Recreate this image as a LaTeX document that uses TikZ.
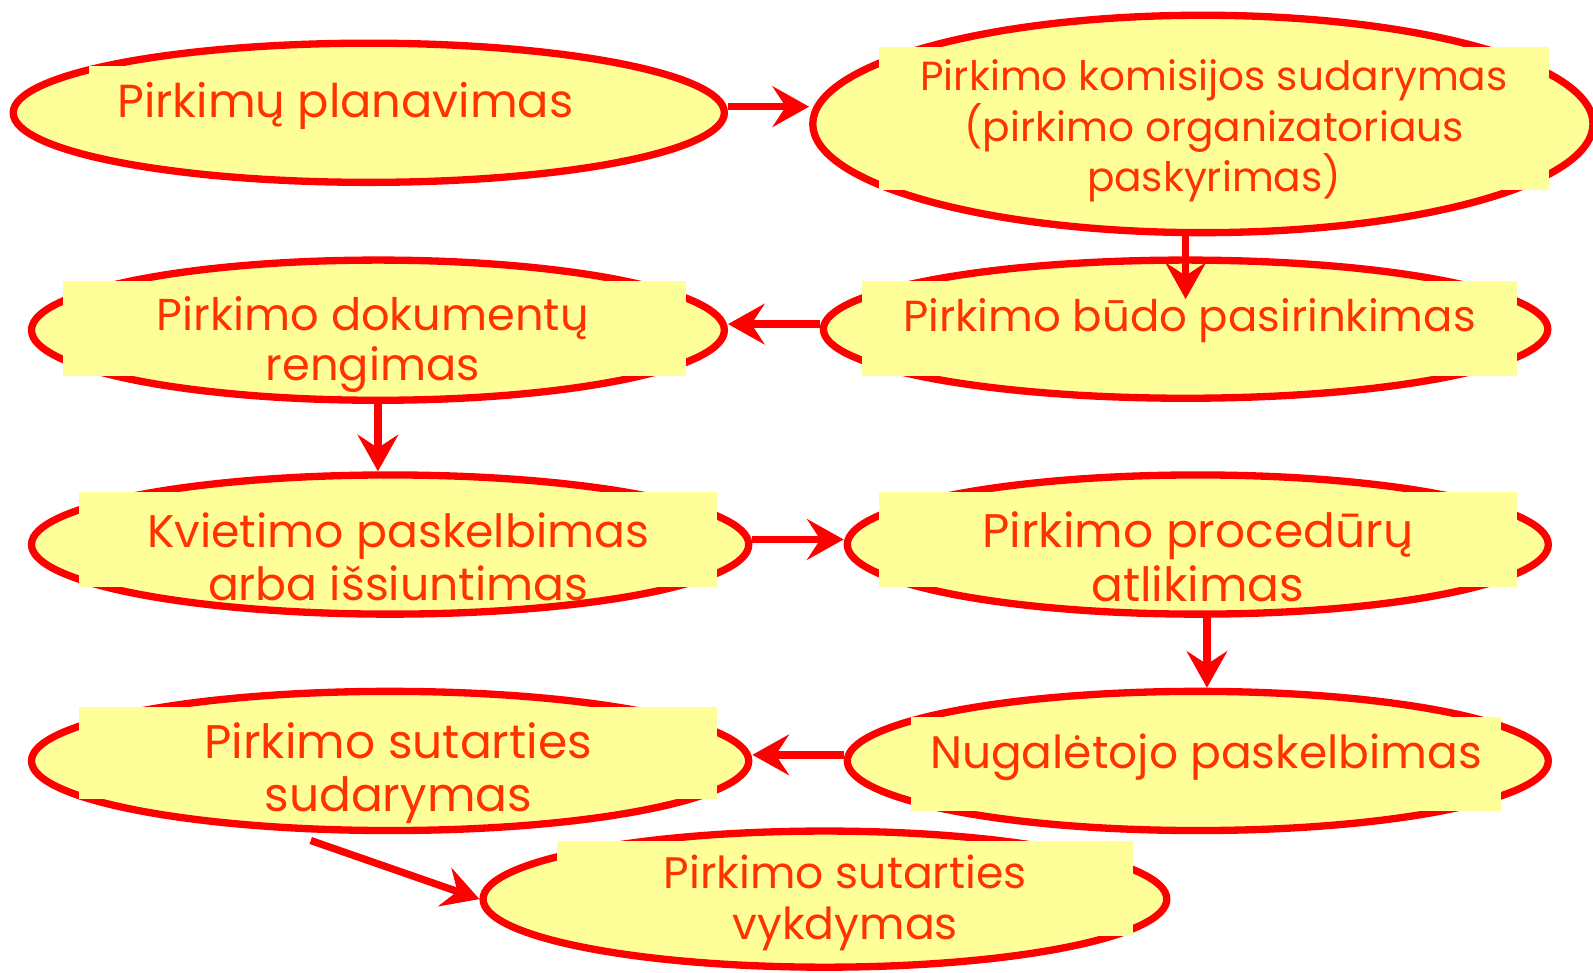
\documentclass[tikz,border=0pt]{standalone}
\usepackage{fontspec}
\setmainfont{Poppins}
\usetikzlibrary{shapes.geometric,arrows.meta}
\definecolor{pale}{RGB}{255,255,153}
\definecolor{ink}{RGB}{255,51,0}
\tikzset{
  stage/.style={ellipse,draw=red,line width=3.6pt,fill=pale,inner sep=0pt},
  cover/.style={fill=pale,inner sep=0pt},
  lbl/.style={text=ink,align=center,inner sep=0pt},
  arr/.style={draw=red,line width=3.6pt,-{Stealth[length=18pt,width=20pt,inset=6.5pt]}}
}
\begin{document}
\begin{tikzpicture}[x=0.5pt,y=-0.5pt]
\useasboundingbox (0,0) rectangle (1568,957);
% the ellipses
\node[stage,minimum width=350pt,minimum height=68.5pt] (e1) at (363,111) {};
\node[stage,minimum width=384pt,minimum height=107pt] (e2) at (1184,122) {};
\node[stage,minimum width=356.5pt,minimum height=68pt] (e3) at (1167,324) {};
\node[stage,minimum width=341pt,minimum height=69pt] (e4) at (372,325) {};
\node[stage,minimum width=353pt,minimum height=68.5pt] (e5) at (384,536) {};
\node[stage,minimum width=345pt,minimum height=68.5pt] (e6) at (1179,536) {};
\node[stage,minimum width=345pt,minimum height=68.5pt] (e7) at (1179,749) {};
\node[stage,minimum width=353pt,minimum height=68.5pt] (e8) at (384,749) {};
\node[stage,minimum width=336.5pt,minimum height=67pt] (e9) at (812,885) {};
% the text boxes over them
\node[cover,minimum width=252pt,minimum height=36pt] (b1) at (340,101) {};
\node[cover,minimum width=330pt,minimum height=70.5pt] (b2) at (1195,116.5) {};
\node[cover,minimum width=322.5pt,minimum height=46.5pt] (b3) at (1170.5,323.5) {};
\node[cover,minimum width=306.5pt,minimum height=46.5pt] (b4) at (368.5,323.5) {};
\node[cover,minimum width=314pt,minimum height=47pt] (b5) at (392,531) {};
\node[cover,minimum width=314pt,minimum height=47pt] (b6) at (1179,531) {};
\node[cover,minimum width=290pt,minimum height=46pt] (b7) at (1187,752) {};
\node[cover,minimum width=314pt,minimum height=45pt] (b8) at (392,741) {};
\node[cover,minimum width=283.5pt,minimum height=46.5pt] (b9) at (831.5,874.5) {};
% the texts
\node[lbl,font=\fontsize{22.8}{26}\selectfont] (t1) at (340,104) {Pirkimų planavimas};
\node[lbl,font=\fontsize{20}{23.5}\selectfont] (t2) at (1195,129) {Pirkimo komisijos sudarymas\\(pirkimo organizatoriaus\\paskyrimas)};
\node[lbl,font=\fontsize{21.4}{24.5}\selectfont] (t3) at (1171,316) {Pirkimo būdo pasirinkimas};
\node[lbl,font=\fontsize{22}{24.5}\selectfont] (t4) at (367,339) {Pirkimo dokumentų\\rengimas};
\node[lbl,font=\fontsize{22.5}{26.5}\selectfont] (t5) at (392,548) {Kvietimo paskelbimas\\arba išsiuntimas};
\node[lbl,font=\fontsize{23.2}{26.5}\selectfont] (t6) at (1179,548) {Pirkimo procedūrų\\atlikimas};
\node[lbl,font=\fontsize{22.4}{26.5}\selectfont] (t7) at (1187,745) {Nugalėtojo paskelbimas};
\node[lbl,font=\fontsize{23.2}{26.5}\selectfont] (t8) at (392,761) {Pirkimo sutarties\\sudarymas};
\node[lbl,font=\fontsize{21.7}{25}\selectfont] (t9) at (832,889) {Pirkimo sutarties\\vykdymas};
% the arrows
\draw[arr] ([yshift=3pt]e1.east) -- ([yshift=3pt]e1.east -| e2.west);
\draw[arr] (e2.south -| e3.north) -- ([yshift=-21pt]e3.north);
\draw[arr] ([yshift=2.5pt]e3.west) -- ([yshift=2.5pt]e3.west -| e4.east);
\draw[arr] (e4.south) -- (e4.south |- e5.north);
\draw[arr] ([yshift=2.5pt]e5.east) -- ([yshift=2.5pt]e5.east -| e6.west);
\draw[arr] ([xshift=4.5pt]e6.south) -- ([xshift=4.5pt]e6.south |- e7.north);
\draw[arr] ([yshift=3pt]e7.west) -- ([yshift=3pt]e7.west -| e8.east);
\draw[arr] ([yshift=-4pt]e8.-138) -- (e9.west);
\end{tikzpicture}
\end{document}
